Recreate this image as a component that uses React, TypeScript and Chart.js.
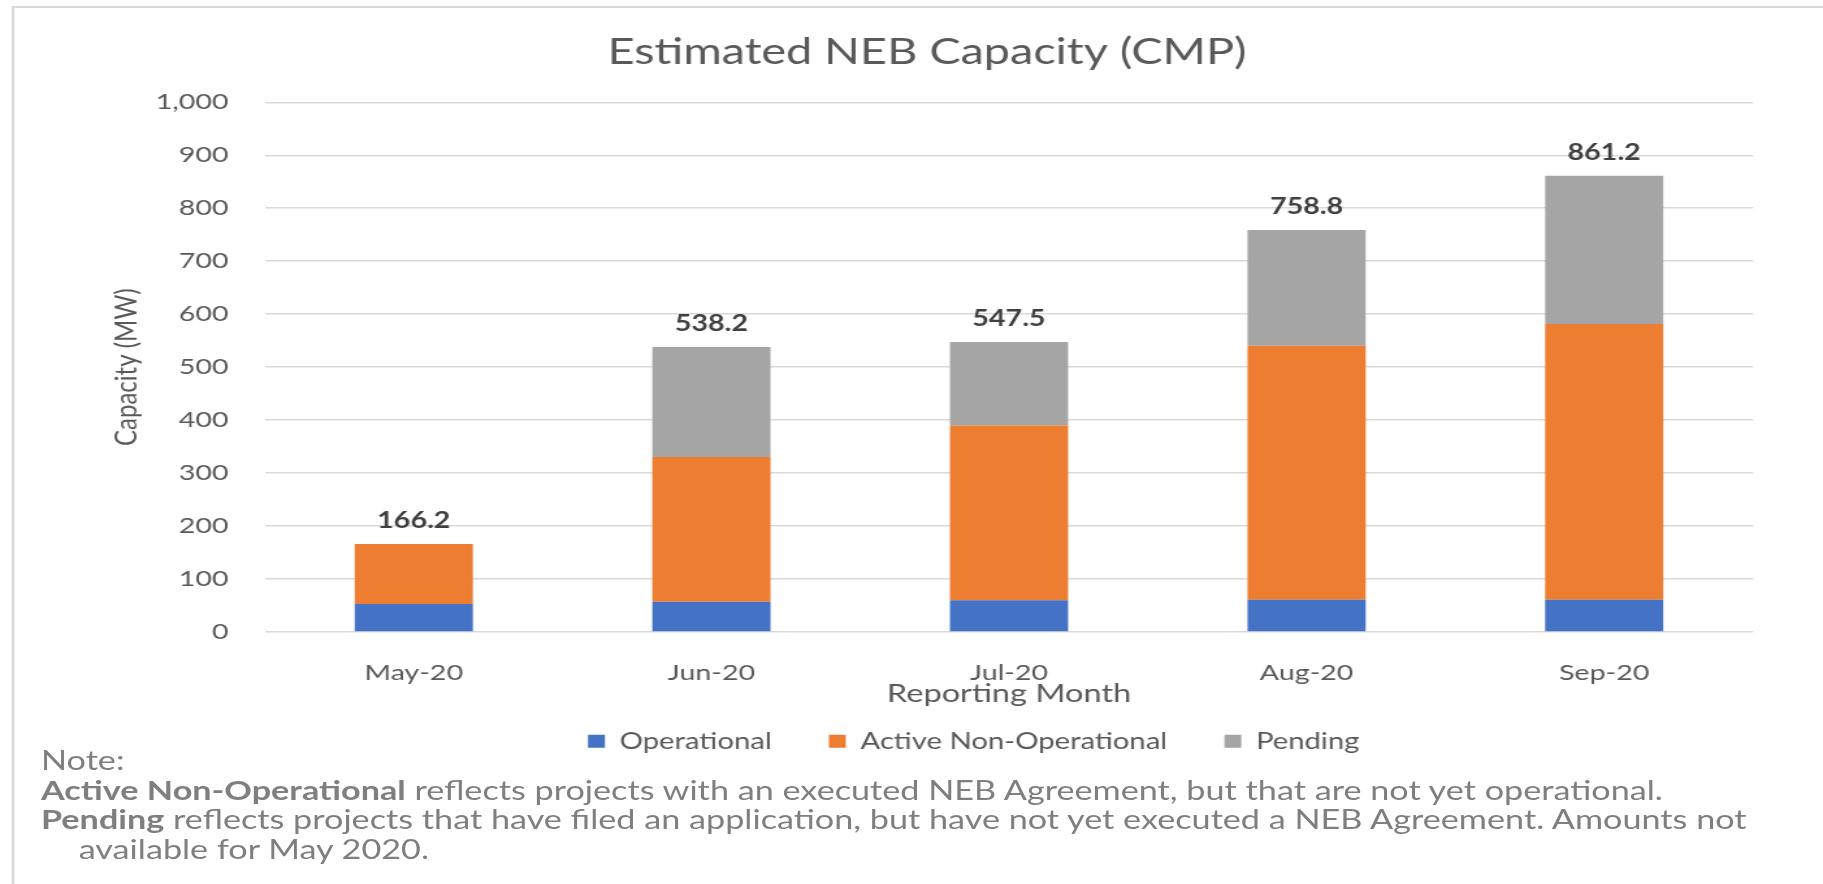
import React, { useEffect, useRef } from "react";
import { Chart, registerables } from "chart.js";

Chart.register(...registerables);

// ---- data ----
const categories = ["May-20", "Jun-20", "Jul-20", "Aug-20", "Sep-20"];
const operational = [53, 57, 60, 61, 61];
const activeNonOperational = [113.2, 273.5, 330, 479.5, 520.6];
const pending = [null, 207.7, 157.5, 218.3, 279.6];
const totals = [166.2, 538.2, 547.5, 758.8, 861.2];
const yMin = 0;
const yMax = 1000;
const yStep = 100;

const seriesNames = ["Operational", "Active Non-Operational", "Pending"];
const seriesColors = ["#4472C4", "#ED7D31", "#A5A5A5"];

// ---- layout ----
const FULL_W = 1823;
const LOG_W = 1402;
const H = 884;
const S = FULL_W / LOG_W; // horizontal stretch of the whole picture
const FONT = "Lato, 'Open Sans', sans-serif";
const GREY = "#595959";

const totalsPlugin = {
  id: "totalsLabels",
  afterDatasetsDraw(chart: any) {
    const { ctx } = chart;
    const x = chart.scales.x;
    const y = chart.scales.y;
    ctx.save();
    ctx.font = `bold 22px ${FONT}`;
    ctx.fillStyle = "#404040";
    ctx.textAlign = "center";
    ctx.textBaseline = "middle";
    totals.forEach((t, i) => {
      ctx.fillText(t.toFixed(1), x.getPixelForValue(i), y.getPixelForValue(t) - 23);
    });
    ctx.restore();
  },
};

const placePlugin = {
  id: "placeBoxes",
  afterLayout(chart: any) {
    const tb = chart.titleBlock;
    if (tb) {
      const dx = 927 / S - (tb.left + tb.right) / 2;
      tb.left += dx;
      tb.right += dx;
    }
    const lg = chart.legend;
    if (lg && lg.lineWidths) {
      const p = lg.options.labels.padding;
      const startX = (lg.left + p + lg.right - lg.lineWidths[0]) / 2;
      const dx = 588 / S - startX;
      lg.left += dx;
      lg.right += dx;
      const dy = 741 - (lg.top + p + 11);
      lg.top += dy;
      lg.bottom += dy;
    }
  },
};

export default function App() {
  const canvasRef = useRef<HTMLCanvasElement | null>(null);

  useEffect(() => {
    const canvas = canvasRef.current;
    if (!canvas) return;
    const chart = new Chart(canvas, {
      type: "bar",
      data: {
        labels: categories,
        datasets: [
          { label: seriesNames[0], data: operational, backgroundColor: seriesColors[0], borderWidth: 0 },
          { label: seriesNames[1], data: activeNonOperational, backgroundColor: seriesColors[1], borderWidth: 0 },
          { label: seriesNames[2], data: pending as any, backgroundColor: seriesColors[2], borderWidth: 0 },
        ],
      },
      options: {
        responsive: false,
        animation: false,
        devicePixelRatio: 1,
        datasets: { bar: { categoryPercentage: 1, barPercentage: 0.397 } },
        layout: { padding: { left: 0, right: LOG_W - 1753 / S, top: 0, bottom: 95.5 } },
        plugins: {
          title: {
            display: true,
            text: "Estimated NEB Capacity (CMP)",
            color: GREY,
            font: { family: FONT, size: 36, weight: "normal" },
            padding: { top: 30.4, bottom: 28.7 },
          },
          legend: {
            position: "bottom",
            labels: {
              boxWidth: 13,
              boxHeight: 13,
              padding: 44,
              color: GREY,
              font: { family: FONT, size: 22.5 },
            },
          },
          tooltip: { enabled: false },
        },
        scales: {
          x: {
            stacked: true,
            grid: { display: false },
            border: { display: false },
            ticks: { color: GREY, font: { family: FONT, size: 22 }, padding: 20 },
            title: {
              display: true,
              text: "Reporting Month",
              color: GREY,
              font: { family: FONT, size: 25 },
              padding: { top: 0, bottom: 3 },
            },
            afterFit: (s: any) => {
              s.height = 80;
            },
          },
          y: {
            stacked: true,
            min: yMin,
            max: yMax,
            ticks: {
              stepSize: yStep,
              padding: 28,
              color: GREY,
              font: { family: FONT, size: 22 },
              callback: (v: any) => Number(v).toLocaleString("en-US"),
            },
            grid: { color: "#D9D9D9", lineWidth: 1.5, drawTicks: false },
            border: { display: false },
            title: {
              display: true,
              text: "Capacity (MW)",
              color: GREY,
              font: { family: FONT, size: 24 },
              padding: { top: 83, bottom: 0 },
            },
            afterFit: (s: any) => {
              s.width = 265 / S;
            },
          },
        },
      },
      plugins: [totalsPlugin, placePlugin],
    } as any);
    let alive = true;
    (document as any).fonts?.ready?.then(() => {
      if (alive) chart.update();
    });
    return () => {
      alive = false;
      chart.destroy();
    };
  }, []);

  return (
    <div
      style={{
        position: "absolute",
        left: 0,
        top: 0,
        width: LOG_W,
        height: H,
        overflow: "hidden",
        transform: `scaleX(${S})`,
        transformOrigin: "0 0",
        background: "#fff",
      }}
    >
      <div
        style={{
          position: "absolute",
          left: 12 / S,
          top: 6,
          width: LOG_W,
          height: H,
          borderLeft: "2px solid #D9D9D9",
          borderTop: "2px solid #D9D9D9",
        }}
      />
      <canvas ref={canvasRef} width={LOG_W} height={H} style={{ position: "absolute", left: 0, top: 0 }} />
      <div
        style={{
          position: "absolute",
          left: 41 / S,
          top: 746,
          fontFamily: FONT,
          fontSize: 26.3,
          lineHeight: "29.5px",
          color: "#7F7F7F",
          whiteSpace: "nowrap",
        }}
      >
        <div>Note:</div>
        <div>
          <b>Active Non-Operational</b> reflects projects with an executed NEB Agreement, but that are not yet operational.
        </div>
        <div>
          <b>Pending</b> reflects projects that have filed an application, but have not yet executed a NEB Agreement. Amounts not
        </div>
        <div style={{ paddingLeft: 29 }}>available for May 2020.</div>
      </div>
    </div>
  );
}
